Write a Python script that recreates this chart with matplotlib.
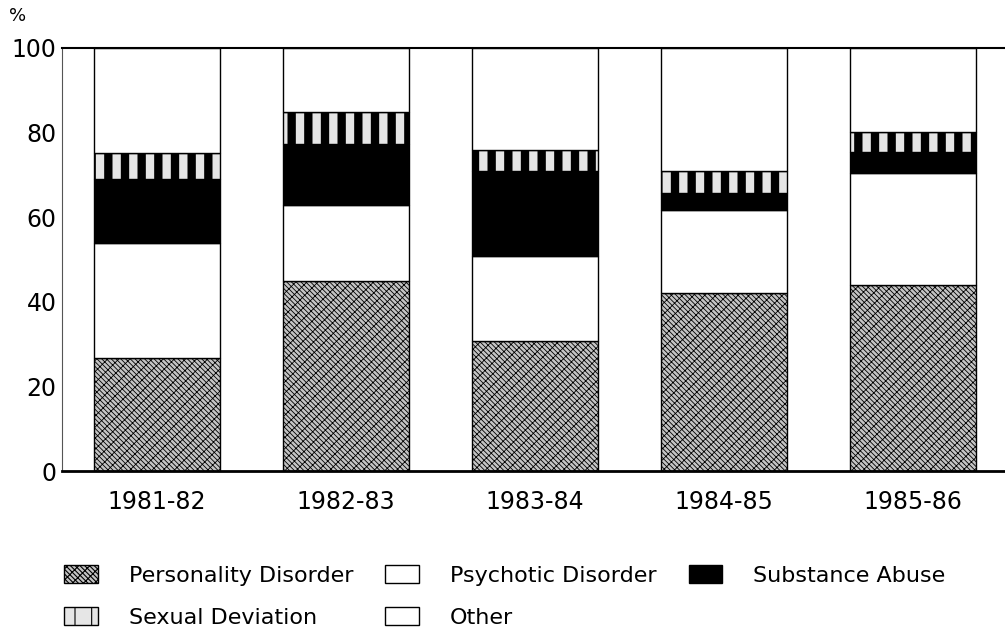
import matplotlib
matplotlib.use("Agg")
import matplotlib.pyplot as plt
import numpy as np

# values (percent of each year's total)
years = ["1981-82", "1982-83", "1983-84", "1984-85", "1985-86"]
personality = [26.8, 45.0, 30.7, 42.0, 44.0]
psychotic = [27.2, 17.9, 20.2, 19.7, 26.5]
substance = [15.0, 14.4, 20.1, 4.1, 4.8]
sexual = [6.2, 7.6, 4.9, 5.0, 4.9]
other = [24.8, 15.1, 24.1, 29.2, 19.8]

plt.rcParams["font.family"] = ["DejaVu Sans"]
plt.rcParams["hatch.linewidth"] = 0.8

fig = plt.figure(figsize=(10.05, 6.41), dpi=100)
ax = fig.add_axes([0.0617, 0.2652, 0.9383, 0.66])

x = np.arange(len(years))
width = 0.667

series = [
    ("Personality Disorder", personality, dict(facecolor="#c4c4c4", hatch="\\\\\\\\xxx", hlw=0.6)),
    ("Psychotic Disorder", psychotic, dict(facecolor="white", hatch=None, hlw=None)),
    ("Substance Abuse", substance, dict(facecolor="black", hatch=None, hlw=None)),
    ("Sexual Deviation", sexual, dict(facecolor="#e6e6e6", hatch="|", hlw=6.0)),
    ("Other", other, dict(facecolor="white", hatch=None, hlw=None)),
]

bottom = np.zeros(len(years))
handles = {}
for name, vals, st in series:
    vals = np.array(vals)
    bars = ax.bar(x, vals, width, bottom=bottom, color=st["facecolor"],
                  edgecolor="black", linewidth=1.0, hatch=st["hatch"], label=name)
    if st["hlw"] is not None:
        for b in bars:
            try:
                b.set_hatch_linewidth(st["hlw"])
            except AttributeError:
                pass
    handles[name] = bars
    bottom = bottom + vals

ax.set_xlim(-0.503, 4.487)
ax.set_ylim(0, 100)
ax.set_yticks([0, 20, 40, 60, 80, 100])
ax.set_xticks(x)
ax.set_xticklabels(years)
ax.tick_params(axis="both", length=0, labelsize=17)
ax.tick_params(axis="y", pad=4)
ax.tick_params(axis="x", pad=14)

ax.spines["right"].set_visible(False)
ax.spines["top"].set_linewidth(1.5)
ax.spines["bottom"].set_linewidth(2.0)
ax.spines["left"].set_linewidth(0.8)
ax.spines["left"].set_color("#555555")

fig.text(0.009, 0.975, "%", fontsize=13, ha="left", va="center")

order = ["Personality Disorder", "Sexual Deviation", "Psychotic Disorder",
         "Other", "Substance Abuse"]
leg = fig.legend([handles[n] for n in order], order, ncol=3,
                 loc="upper left", bbox_to_anchor=(0.044, 0.15),
                 frameon=False, fontsize=16, handlelength=1.5, handleheight=0.9,
                 handletextpad=1.4, columnspacing=1.45, labelspacing=0.95)

fig.savefig("out.png", dpi=100)
